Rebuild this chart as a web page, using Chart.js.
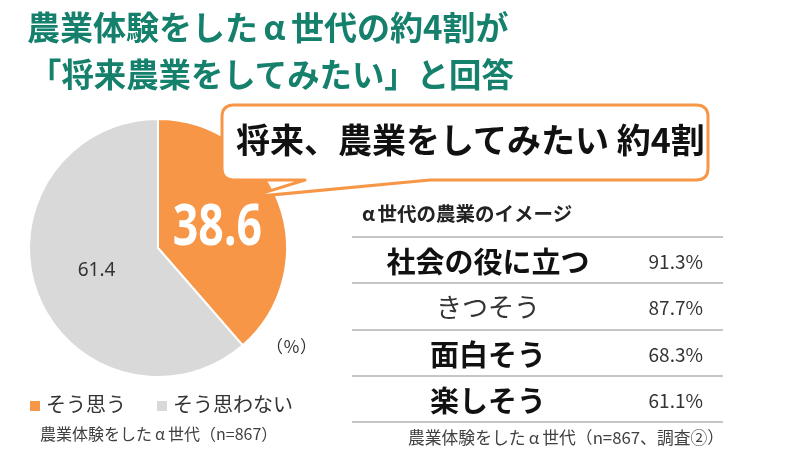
<!DOCTYPE html>
<html><head><meta charset="utf-8">
<script src="https://cdn.jsdelivr.net/npm/chart.js@4"></script>
<style>
html,body{margin:0;padding:0;background:#fff;}
body{width:800px;height:461px;position:relative;overflow:hidden;font-family:"Noto Sans CJK JP","Noto Sans",sans-serif;color:#222;}
#wrap{position:absolute;left:0;top:0;width:800px;height:461px;}
.abs{position:absolute;white-space:nowrap;}
.title{color:#15806c;font-weight:bold;font-size:33px;line-height:1;}
.a{display:inline-block;width:1em;text-align:center;}
.row{position:absolute;left:352px;width:371px;height:46px;}
.rl{position:absolute;left:0;width:272px;text-align:center;top:50%;transform:translateY(-50%);line-height:1;}
.rv{position:absolute;right:20px;top:50%;transform:translateY(-50%);font-size:19px;line-height:1;color:#333;}
.hl{position:absolute;left:352px;width:371px;height:2px;background:#c6c6c6;}
</style></head>
<body>
<div id="wrap"><canvas id="c" width="800" height="461"></canvas></div>
<div class="abs title" style="left:27px;top:10px;">農業体験をした<span class="a">α</span>世代の約4割が</div>
<div class="abs title" style="left:29px;top:57px;font-size:32.4px;">「将来農業をしてみたい」と回答</div>
<svg class="abs" style="left:0;top:0" width="800" height="461">
<path d="M234,105 H696 Q708,105 708,117 V168 Q708,180 696,180 H430 L250,197 L305,180 H234 Q222,180 222,168 V117 Q222,105 234,105 Z" fill="#fff" stroke="#F79646" stroke-width="3" stroke-linejoin="round"/>
</svg>
<div class="abs" style="left:236px;top:122px;font-size:34px;font-weight:bold;color:#111;line-height:1;">将来、農業をしてみたい 約4割</div>
<div class="abs" style="left:266px;top:337px;font-size:17px;color:#333;line-height:1;">（％）</div>
<div id="legend"></div>
<div class="abs" style="left:40px;top:425px;font-size:16px;color:#404040;line-height:1;">農業体験をした<span class="a">α</span>世代（n=867）</div>
<div class="abs" style="left:362px;top:203px;font-size:19.5px;font-weight:bold;color:#222;line-height:1;"><span class="a" style="width:0.8em;text-align:left">α</span>世代の農業のイメージ</div>
<div id="table"></div>
<div class="abs" style="left:408px;top:429px;font-size:16.8px;color:#404040;line-height:1;">農業体験をした<span class="a">α</span>世代（n=867、調査②）</div>
<script>
const pieLabels = ['そう思う', 'そう思わない'];
const pieValues = [38.6, 61.4];
const pieColors = ['#F79646', '#D9D9D9'];
const imageLabels = ['社会の役に立つ', 'きつそう', '面白そう', '楽しそう'];
const imageValues = [91.3, 87.7, 68.3, 61.1];
const imageBold = [true, false, true, true];

// legend
const lg = document.getElementById('legend');
const legendX = [30, 157];
pieLabels.forEach((t, i) => {
  const sq = document.createElement('div');
  sq.className = 'abs';
  sq.style.cssText = `left:${legendX[i]}px;top:401px;width:10px;height:10px;background:${pieColors[i]};`;
  lg.appendChild(sq);
  const tx = document.createElement('div');
  tx.className = 'abs';
  tx.style.cssText = `left:${legendX[i] + 16}px;top:394px;font-size:20px;line-height:1;color:#333;`;
  tx.textContent = t;
  lg.appendChild(tx);
});

// table
const tb = document.getElementById('table');
const lineY = [236, 282, 329, 375, 421];
lineY.forEach(y => {
  const d = document.createElement('div');
  d.className = 'hl'; d.style.top = y + 'px'; tb.appendChild(d);
});
imageLabels.forEach((t, i) => {
  const r = document.createElement('div');
  r.className = 'row'; r.style.top = (lineY[i] + 1) + 'px';
  const l = document.createElement('div');
  l.className = 'rl'; l.textContent = t;
  l.style.fontSize = imageBold[i] ? '29px' : '26px';
  l.style.fontWeight = imageBold[i] ? 'bold' : 'normal';
  l.style.color = imageBold[i] ? '#111' : '#333';
  const v = document.createElement('div');
  v.className = 'rv'; v.textContent = imageValues[i].toFixed(1) + '%';
  r.appendChild(l); r.appendChild(v); tb.appendChild(r);
});

const labelPlugin = {
  id: 'sliceLabels',
  afterDatasetsDraw(chart) {
    const ctx = chart.ctx;
    const meta = chart.getDatasetMeta(0);
    meta.data.forEach((arc, i) => {
      const p = arc.tooltipPosition();
      const txt = pieValues[i].toFixed(1);
      ctx.save();
      ctx.textAlign = 'center';
      ctx.textBaseline = 'middle';
      if (i === 0) {
        ctx.fillStyle = '#fff';
        ctx.font = 'bold 58px "Noto Sans", sans-serif';
        ctx.translate(p.x - 1, p.y + 3);
        ctx.scale(0.77, 1);
        ctx.fillText(txt, 0, 0);
      } else {
        ctx.fillStyle = '#333';
        ctx.font = '19px "Noto Sans", sans-serif';
        ctx.fillText(txt, p.x - 1, p.y);
      }
      ctx.restore();
    });
  }
};

new Chart(document.getElementById('c'), {
  type: 'pie',
  data: {
    labels: pieLabels,
    datasets: [{ data: pieValues, backgroundColor: pieColors, borderColor: '#fff', borderWidth: 2 }]
  },
  options: {
    responsive: false,
    animation: false,
    layout: { padding: { left: 28, top: 118, right: 512, bottom: 83 } },
    plugins: { legend: { display: false }, tooltip: { enabled: false } }
  },
  plugins: [labelPlugin]
});
</script>
</body></html>
